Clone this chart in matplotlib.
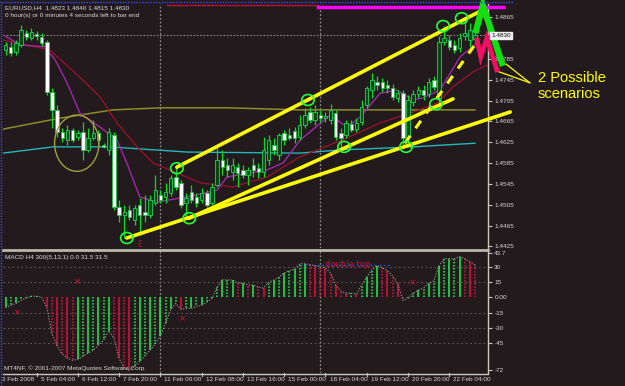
import matplotlib
matplotlib.use('Agg')
import matplotlib.pyplot as plt
from matplotlib.patches import Ellipse, Rectangle
from matplotlib.lines import Line2D

# ---------------- data (EURUSD H4) ----------------
opens = [1.4802, 1.4808, 1.4798, 1.4812, 1.4835, 1.4825, 1.4833, 1.4827, 1.4817, 1.4721,
         1.4687, 1.4645, 1.4629, 1.4648, 1.4635, 1.4645, 1.4610, 1.4633, 1.4643, 1.4620,
         1.4610, 1.4639, 1.4501, 1.4485, 1.4495, 1.4476, 1.4504, 1.4491, 1.4485, 1.4508,
         1.4524, 1.4520, 1.4527, 1.4558, 1.4547, 1.4508, 1.4529, 1.4520, 1.4514, 1.4527,
         1.4508, 1.4543, 1.4591, 1.4581, 1.4568, 1.4577, 1.4572, 1.4562, 1.4581, 1.4575,
         1.4568, 1.4591, 1.4620, 1.4600, 1.4643, 1.4639, 1.4647, 1.4635, 1.4658, 1.4683,
         1.4668, 1.4677, 1.4671, 1.4668, 1.4681, 1.4643, 1.4639, 1.4660, 1.4650, 1.4664,
         1.4696, 1.4725, 1.4741, 1.4741, 1.4735, 1.4729, 1.4710, 1.4719, 1.4635, 1.4702,
         1.4718, 1.4725, 1.4718, 1.4744, 1.4710, 1.4817, 1.4821, 1.4812, 1.4806, 1.4829,
         1.4821, 1.4823]
highs = [1.4817, 1.4817, 1.4821, 1.4850, 1.4840, 1.4844, 1.4838, 1.4835, 1.4821, 1.4729,
         1.4696, 1.4652, 1.4658, 1.4652, 1.4648, 1.4664, 1.4652, 1.4668, 1.4648, 1.4623,
         1.4652, 1.4645, 1.4514, 1.4504, 1.4504, 1.4504, 1.4518, 1.4524, 1.4524, 1.4562,
         1.4533, 1.4547, 1.4562, 1.4577, 1.4552, 1.4527, 1.4543, 1.4527, 1.4537, 1.4533,
         1.4547, 1.4614, 1.4610, 1.4595, 1.4595, 1.4585, 1.4581, 1.4577, 1.4595, 1.4585,
         1.4635, 1.4639, 1.4633, 1.4643, 1.4648, 1.4652, 1.4654, 1.4677, 1.4691, 1.4693,
         1.4696, 1.4687, 1.4683, 1.4698, 1.4687, 1.4652, 1.4668, 1.4668, 1.4671, 1.4706,
         1.4733, 1.4758, 1.4752, 1.4748, 1.4744, 1.4737, 1.4725, 1.4725, 1.4716, 1.4725,
         1.4733, 1.4735, 1.4748, 1.4752, 1.4829, 1.4848, 1.4831, 1.4821, 1.4835, 1.4863,
         1.4854, 1.4840]
lows = [1.4792, 1.4790, 1.4792, 1.4808, 1.4821, 1.4821, 1.4821, 1.4810, 1.4716, 1.4652,
        1.4635, 1.4625, 1.4620, 1.4625, 1.4629, 1.4591, 1.4606, 1.4629, 1.4620, 1.4614,
        1.4600, 1.4495, 1.4472, 1.4441, 1.4476, 1.4466, 1.4447, 1.4472, 1.4479, 1.4504,
        1.4508, 1.4508, 1.4522, 1.4533, 1.4499, 1.4479, 1.4508, 1.4501, 1.4508, 1.4501,
        1.4504, 1.4539, 1.4562, 1.4558, 1.4552, 1.4539, 1.4556, 1.4543, 1.4558, 1.4556,
        1.4558, 1.4581, 1.4600, 1.4591, 1.4620, 1.4629, 1.4623, 1.4629, 1.4652, 1.4662,
        1.4658, 1.4664, 1.4664, 1.4660, 1.4629, 1.4616, 1.4633, 1.4645, 1.4645, 1.4658,
        1.4691, 1.4710, 1.4725, 1.4721, 1.4719, 1.4706, 1.4702, 1.4616, 1.4623, 1.4695,
        1.4710, 1.4706, 1.4712, 1.4725, 1.4698, 1.4812, 1.4802, 1.4796, 1.4798, 1.4821,
        1.4808, 1.4815]
closes = [1.4812, 1.4796, 1.4815, 1.4840, 1.4827, 1.4837, 1.4829, 1.4815, 1.4721, 1.4687,
          1.4645, 1.4633, 1.4648, 1.4629, 1.4643, 1.4610, 1.4633, 1.4643, 1.4629, 1.4616,
          1.4645, 1.4501, 1.4485, 1.4491, 1.4481, 1.4499, 1.4485, 1.4485, 1.4514, 1.4533,
          1.4514, 1.4529, 1.4556, 1.4539, 1.4504, 1.4518, 1.4514, 1.4508, 1.4527, 1.4504,
          1.4539, 1.4591, 1.4577, 1.4572, 1.4581, 1.4566, 1.4562, 1.4572, 1.4572, 1.4568,
          1.4610, 1.4629, 1.4610, 1.4639, 1.4629, 1.4633, 1.4633, 1.4658, 1.4677, 1.4668,
          1.4683, 1.4671, 1.4675, 1.4687, 1.4635, 1.4633, 1.4662, 1.4648, 1.4662, 1.4693,
          1.4729, 1.4744, 1.4735, 1.4729, 1.4729, 1.4712, 1.4719, 1.4633, 1.4706, 1.4718,
          1.4725, 1.4716, 1.4741, 1.4731, 1.4817, 1.4825, 1.4808, 1.4802, 1.4825, 1.4835,
          1.4840, 1.4830]

macd_values = [-10, -8, -6, -3, -1, 1, 1, 0, -10, -36,
               -48, -56, -60, -62, -61, -58, -55, -52, -47, -42,
               -33, -40, -60, -70, -72, -68, -63, -58, -52, -46,
               -38, -26, -12, -6, -12, -11, -11, -9, -8, -5,
               -1, 10, 17, 17, 17, 14, 14, 12, 12, 10,
               9, 15, 17, 20, 24, 26, 28, 33, 33, 32,
               31, 30, 29, 24, 12, 6, 4, 4, 3, 12,
               20, 27, 31, 29, 26, 21, 14, -3, -1, 4,
               7, 9, 14, 16, 31, 38, 38, 38, 40, 38,
               35, 32]

# moving averages (bar index, price) vertices
ma_purple_x = [-0.5, 2.8, 7.6, 9.6, 11.9, 14.4, 18.3, 21.6, 23.5, 26.0, 29.3, 35.2, 41.0, 42.9,
               50.7, 53.8, 57.1, 62.9, 66.2, 68.7, 72.6, 75.9, 79.0, 80.9, 84.2, 88.1, 91.0]
ma_purple_y = [1.4831, 1.4812, 1.4808, 1.4783, 1.4739, 1.4681, 1.4654, 1.4629, 1.4585, 1.4520,
               1.4510, 1.4520, 1.4533, 1.4558, 1.4572, 1.4585, 1.4629, 1.4677, 1.4654, 1.4673,
               1.4719, 1.4725, 1.4706, 1.4710, 1.4725, 1.4789, 1.4812]
ma_red_x = [-0.5, 8.6, 15.0, 18.3, 21.6, 25.5, 28.6, 33.2, 37.7, 44.1, 50.7, 57.1, 66.2, 72.6,
            79.0, 83.6, 86.7, 90.6, 93.3]
ma_red_y = [1.4821, 1.4802, 1.4744, 1.4712, 1.4662, 1.4616, 1.4585, 1.4566, 1.4547, 1.4539,
            1.4558, 1.4597, 1.4633, 1.4662, 1.4683, 1.4700, 1.4731, 1.4760, 1.4773]
ma_olive_x = [-0.5, 10.5, 20.8, 30.3, 43.0, 57.1, 75.0, 91.0]
ma_olive_y = [1.4650, 1.4671, 1.4687, 1.4691, 1.4691, 1.4687, 1.4687, 1.4687]
ma_cyan_x = [-0.5, 9.2, 20.2, 35.2, 57.1, 64.8, 79.0, 91.0]
ma_cyan_y = [1.4604, 1.4616, 1.4616, 1.4606, 1.4604, 1.4610, 1.4616, 1.4623]

# hand-drawn trend lines (bar, price)
upper_line = [(33.2, 1.4577), (92.5, 1.4879)]
lower_line = [(23.5, 1.4441), (97.8, 1.4683)]
middle_line = [(35.6, 1.4479), (86.7, 1.4708)]
dashed_line = [(77.4, 1.4623), (91.6, 1.4821)]
green_path = [(91.2, 1.4840), (92.5, 1.4888), (96.2, 1.4777)]
pink_path = [(91.4, 1.4821), (92.1, 1.4789), (93.3, 1.4825), (95.2, 1.4764)]
circles = [(23.5, 1.4441), (33.2, 1.4575), (35.6, 1.4479), (58.6, 1.4706), (65.6, 1.4616),
           (77.6, 1.4616), (83.4, 1.4698), (84.8, 1.4848), (88.4, 1.4863)]

price_ticks = [1.4425, 1.4465, 1.4505, 1.4545, 1.4585, 1.4625, 1.4665, 1.4705, 1.4745, 1.4785, 1.4865]
macd_ticks = [43.7, 30, 15, 0, -15, -30, -45, -72]
macd_tick_labels = ['43.7', '30', '15', '0.00', '-15', '-30', '-45', '-72']
time_ticks = [6, 14, 22, 30, 38, 46, 54, 62, 70, 78, 86]
time_labels = ['5 Feb 04:00', '6 Feb 12:00', '7 Feb 20:00', '11 Feb 00:00', '12 Feb 08:00',
               '13 Feb 16:00', '15 Feb 00:00', '18 Feb 04:00', '19 Feb 12:00', '20 Feb 20:00',
               '22 Feb 04:00']

# ---------------- drawing ----------------
W, H = 625, 386
BG = '#231a1d'
FG = '#d8d8d8'
AXC = '#c8c8c0'
FS = 4.6
SF = 'Liberation Sans'

fig = plt.figure(figsize=(W / 100, H / 100), dpi=100, facecolor=BG)


def rect(x0, y0, x1, y1):
    return [x0 / W, 1 - y1 / H, (x1 - x0) / W, (y1 - y0) / H]


ax = fig.add_axes(rect(3, 4, 488, 248))
axm = fig.add_axes(rect(3, 251, 488, 373))
for a in (ax, axm):
    a.set_facecolor(BG)
    a.set_xlim(-0.5, 93.5)
    for s in ('top', 'left', 'bottom'):
        a.spines[s].set_visible(False)
    a.spines['right'].set_color(AXC)
    a.spines['right'].set_linewidth(1)
    a.yaxis.tick_right()
    a.tick_params(axis='y', colors=AXC, labelcolor=FG, labelsize=FS, length=3, width=0.8, pad=1.5)
    a.tick_params(axis='x', bottom=False, labelbottom=False)
    for xs in (30, 61):
        a.axvline(xs, color='#8a8a8a', lw=0.9, ls=(0, (1.5, 1.5)))

ax.set_ylim(1.44218, 1.48903)
ax.set_yticks(price_ticks)
ax.set_yticklabels(['%.4f' % v for v in price_ticks], family=SF)

# current price line
ax.axhline(closes[-1], color='#8a8a8a', lw=0.8, ls=(0, (1.5, 1.5)))

# moving averages
ax.plot(ma_olive_x, ma_olive_y, color='#8c8c28', lw=1.1)
ax.plot(ma_cyan_x, ma_cyan_y, color='#20b8b8', lw=1.0)
ax.plot(ma_red_x, ma_red_y, color='#a0102c', lw=0.9)
ax.plot(ma_purple_x, ma_purple_y, color='#a028a8', lw=1.0)

# candles
for i, (o, h, l, c) in enumerate(zip(opens, highs, lows, closes)):
    ax.vlines(i, l, h, color='#00e020', lw=0.9, zorder=3)
    bottom = min(o, c)
    height = max(abs(c - o), 0.00012)
    if c >= o:
        fc, ec = '#004a10', '#20d060'
    else:
        fc, ec = '#ffffff', '#20c040'
    ax.add_patch(Rectangle((i - 0.33, bottom), 0.66, height, facecolor=fc, edgecolor=ec,
                           lw=0.6, zorder=4))

# olive circle
ax.add_patch(Ellipse((13.8, 1.4623), 8.6, 0.0108, fill=False, edgecolor='#a0a040', lw=1.0, zorder=5))

# yellow trend lines
Y = '#ffff00'
for seg in (upper_line, lower_line, middle_line):
    ax.plot([p[0] for p in seg], [p[1] for p in seg], color=Y, lw=2.6, zorder=6,
            solid_capstyle='round', clip_on=False)
ax.plot([p[0] for p in dashed_line], [p[1] for p in dashed_line], color=Y, lw=2.2,
        ls=(0, (3, 3)), zorder=6, clip_on=False)

# green circles
for cx, cy in circles:
    ax.add_patch(Ellipse((cx, cy), 2.4, 0.0021, fill=False, edgecolor='#20ff40', lw=1.2, zorder=7,
                         clip_on=False))

# scenario arrows
ax.plot([p[0] for p in green_path], [p[1] for p in green_path], color='#10e010', lw=4.5,
        zorder=8, clip_on=False, solid_joinstyle='miter')
ax.plot([p[0] for p in pink_path], [p[1] for p in pink_path], color='#f01060', lw=3.5,
        zorder=8, clip_on=False, solid_joinstyle='miter')

# top marker lines
ax.plot([31.3, 60.6], [1.4888, 1.4888], color='#c01030', lw=1.0, clip_on=False, zorder=6)
ax.plot([60.6, 96.4], [1.4885, 1.4885], color='#ff00ff', lw=2.5, clip_on=False, zorder=6)

# pointer lines to text
ax.plot([97.0, 101.6], [1.4775, 1.4739], color=Y, lw=0.9, clip_on=False)
ax.plot([95.1, 101.6], [1.4762, 1.4739], color=Y, lw=0.9, clip_on=False)

# red glyph near low
ax.text(26.0, 1.4429, '\u0190', color='#d01030', fontsize=5.5, ha='center', va='center')

# current price box
ax.text(94.1, closes[-1], '%.4f' % closes[-1], transform=ax.transData, fontsize=FS, family=SF,
        color='#101010', ha='left', va='center', clip_on=False, zorder=10,
        bbox=dict(boxstyle='square,pad=0.2', fc='#f0f0f0', ec='#f0f0f0'))

# ---------------- MACD ----------------
axm.set_ylim(-74.5, 45.5)
axm.set_yticks(macd_ticks)
axm.set_yticklabels(macd_tick_labels, family=SF)
for lvl in (30, 15, -15, -30, -45):
    axm.axhline(lvl, color='#5a5a5a', lw=0.8, ls=(0, (1.5, 2.5)))
axm.plot([57, 74.5], [32, 32], color='#3050e0', lw=0.9, ls=(0, (1.5, 2)))
for i, v in enumerate(macd_values):
    prev = macd_values[i - 1] if i > 0 else v
    col = '#20f050' if v >= prev else '#e0103c'
    style = '-' if i % 2 == 0 else (0, (1, 1))
    axm.vlines(i, 0, v, color=col, lw=1.1, linestyles=style)
axm.plot(range(len(macd_values)), macd_values, color='#a0a0a0', lw=0.8, ls=(0, (1, 1.5)))
axm.text(62, 32, 'double top', color='#d0103c', fontsize=6, va='center')
for bx, by in ((14, 15), (2.2, -15), (34.2, -21), (78.8, 14)):
    axm.text(bx, by, '\u00d7', color='#e0103c', fontsize=6, ha='center', va='center')

# x labels
for t, lab in zip(time_ticks, time_labels):
    axm.plot([t, t], [-74.5, -77.5], color=AXC, lw=0.8, clip_on=False)
    axm.text(t + 0.8, -81, lab, color=FG, fontsize=FS, family=SF, ha='left', va='center',
             clip_on=False)
axm.text(-0.6, -81, '3 Feb 2008', color=FG, fontsize=FS, family=SF, ha='left', va='center',
         clip_on=False)

# frame lines
fig.add_artist(Line2D([3 / W, 488 / W], [1 - 249.5 / H] * 2, color='#b8b8a8', lw=2))
fig.add_artist(Line2D([3 / W, 488 / W], [1 - 373.5 / H] * 2, color=AXC, lw=1))
fig.add_artist(Line2D([0, 513 / W], [1 - 2 / H] * 2, color='#3050ff', lw=1, ls=(0, (1, 1))))
fig.add_artist(Line2D([1 / W, 1 / W], [0, 1], color='#3050ff', lw=1, ls=(0, (1, 1))))

# texts
fig.text(5 / W, 1 - 7.5 / H, 'EURUSD,H4  1.4823 1.4840 1.4815 1.4830', color=FG, fontsize=FS,
         family=SF, va='center')
fig.text(5 / W, 1 - 15 / H, '0 hour(s) or 0 minutes 4 seconds left to bar end', color=FG,
         fontsize=FS, family=SF, va='center')
fig.text(5 / W, 1 - 257 / H, 'MACD H4 300(5,13,1) 0.0 31.5 31.5', color=FG, fontsize=FS,
         family=SF, va='center')
fig.text(4 / W, 1 - 368 / H, 'MT4NF, \u00a9 2001-2007 MetaQuotes Software Corp.', color=FG,
         fontsize=FS, family=SF, va='center')
fig.text(538 / W, 1 - 78 / H, '2 Possible', color='#ffff00', fontsize=10.5,
         family=SF, va='center')
fig.text(538 / W, 1 - 94 / H, 'scenarios', color='#ffff00', fontsize=10.5,
         family=SF, va='center')

fig.savefig('out.png', dpi=100, facecolor=BG)
